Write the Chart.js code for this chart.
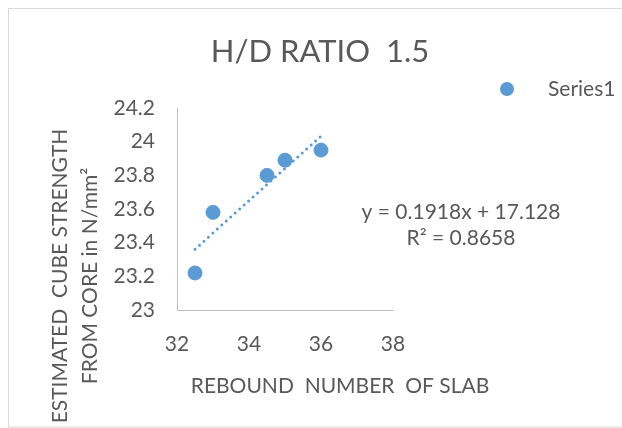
<!DOCTYPE html>
<html>
<head>
<meta charset="utf-8">
<script src="https://cdn.jsdelivr.net/npm/chart.js@4/dist/chart.umd.min.js"></script>
<style>
  html, body { margin: 0; padding: 0; background: #fff; }
  #wrap { width: 622px; height: 428px; position: relative; }
</style>
</head>
<body>
<div id="wrap"><canvas id="chart" width="622" height="428"></canvas></div>
<script>
// data
const reboundNumber = [32.5, 33, 34.5, 35, 36];
const cubeStrength = [23.22, 23.58, 23.8, 23.89, 23.95];
const xTicks = [32, 34, 36, 38];
const yTicks = [23, 23.2, 23.4, 23.6, 23.8, 24, 24.2];
// linear trendline as printed on the chart
const trendSlope = 0.1918;
const trendIntercept = 17.128;
const rSquared = 0.8658;

const BLUE = '#5b9bd5';
const TEXT = '#595959';
const FONT = 'Lato, "Open Sans", sans-serif';

const points = reboundNumber.map((x, i) => ({ x: x, y: cubeStrength[i] }));
const xMin = Math.min(...reboundNumber), xMax = Math.max(...reboundNumber);
const trend = [xMin, xMax].map(x => ({ x: x, y: trendSlope * x + trendIntercept }));

// texts around the plot (title, legend, axis titles, equation)
const decorations = {
    id: 'decorations',
    beforeDraw(chart) {
        const c = chart.ctx;
        c.save();
        c.fillStyle = '#fff';
        c.fillRect(0, 0, chart.width, chart.height);
        c.strokeStyle = '#d9d9d9';
        c.lineWidth = 1;
        c.strokeRect(8.5, 8.5, 700, 418.5);
        c.restore();
    },
    afterDraw(chart) {
        const c = chart.ctx;
        c.save();
        c.fillStyle = TEXT;
        c.textBaseline = 'middle';

        c.textAlign = 'center';
        c.font = '31px ' + FONT;
        c.fillText('H/D RATIO  1.5', 320, 52);

        // legend
        c.beginPath();
        c.arc(507, 89, 7, 0, Math.PI * 2);
        c.fillStyle = BLUE;
        c.fill();
        c.fillStyle = TEXT;
        c.textAlign = 'left';
        c.font = '21px ' + FONT;
        c.fillText('Series1', 548, 89);

        // trendline equation
        c.textAlign = 'center';
        c.font = '21px ' + FONT;
        c.fillText('y = ' + trendSlope + 'x + ' + trendIntercept, 461, 212);
        c.fillText('R\u00b2 = ' + rSquared, 461, 238);

        // x axis title
        c.font = '21px ' + FONT;
        c.fillText('REBOUND  NUMBER  OF SLAB', 340, 386);

        // y axis title, two lines
        c.save();
        c.translate(60, 276);
        c.rotate(-Math.PI / 2);
        c.fillText('ESTIMATED  CUBE STRENGTH', 0, 0);
        c.restore();
        c.save();
        c.translate(90, 276);
        c.rotate(-Math.PI / 2);
        c.fillText('FROM CORE in N/mm\u00b2', 0, 0);
        c.restore();

        c.restore();
    }
};

new Chart(document.getElementById('chart'), {
    type: 'scatter',
    data: {
        datasets: [{
            label: 'Series1',
            data: points,
            backgroundColor: BLUE,
            borderColor: BLUE,
            pointRadius: 7,
            pointHoverRadius: 7,
            order: 1
        }, {
            label: 'Linear (Series1)',
            type: 'line',
            data: trend,
            borderColor: BLUE,
            borderWidth: 3,
            borderDash: [0, 6],
            borderCapStyle: 'round',
            pointRadius: 0,
            fill: false,
            order: 2
        }]
    },
    options: {
        responsive: false,
        animation: false,
        layout: { padding: { top: 108, right: 229, bottom: 0, left: 0 } },
        plugins: { legend: { display: false }, title: { display: false }, tooltip: { enabled: false } },
        scales: {
            x: {
                type: 'linear',
                min: 32, max: 38,
                afterBuildTicks: s => { s.ticks = xTicks.map(v => ({ value: v })); },
                afterFit: s => { s.height = 118; },
                grid: { display: false, drawTicks: false },
                border: { color: '#bfbfbf', width: 1 },
                ticks: { color: TEXT, font: { family: FONT, size: 21 }, padding: 22 }
            },
            y: {
                type: 'linear',
                min: 23, max: 24.2,
                afterBuildTicks: s => { s.ticks = yTicks.map(v => ({ value: v })); },
                afterFit: s => { s.width = 177; },
                grid: { display: false, drawTicks: false },
                border: { color: '#bfbfbf', width: 1 },
                ticks: { color: TEXT, font: { family: FONT, size: 21 }, padding: 22,
                         callback: v => String(Math.round(v * 10) / 10) }
            }
        }
    },
    plugins: [decorations]
});
</script>
</body>
</html>
